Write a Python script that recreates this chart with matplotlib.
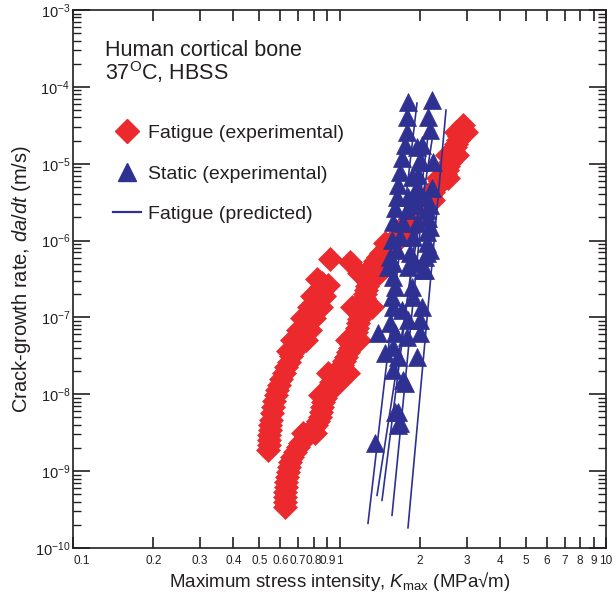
import matplotlib
matplotlib.use("Agg")
import matplotlib.pyplot as plt
from matplotlib.ticker import FixedLocator, FixedFormatter, NullLocator, LogLocator
from matplotlib.lines import Line2D

plt.rcParams['font.family'] = ['Liberation Sans', 'DejaVu Sans']
plt.rcParams['mathtext.fontset'] = 'custom'
plt.rcParams['mathtext.rm'] = 'Liberation Sans'
plt.rcParams['mathtext.it'] = 'Liberation Sans:italic'
plt.rcParams['mathtext.bf'] = 'Liberation Sans:bold'

RED = '#EC2A2E'
BLUE = '#2E3192'
INK = '#231F20'

# ---- Fatigue (experimental): band 1 ----
fat1_K = [0.539, 0.544, 0.548, 0.553, 0.563, 0.578, 0.593, 0.619, 0.646, 0.675, 0.641,
          0.705, 0.664, 0.749, 0.736, 0.699, 0.775, 0.768, 0.723, 0.802, 0.809, 0.768,
          0.852, 0.830, 0.788, 0.875, 0.852, 0.823, 0.905, 0.921,
          0.544, 0.544, 0.548, 0.558, 0.568, 0.583, 0.603, 0.630, 0.658, 0.687, 0.717,
          0.749, 0.788, 0.816, 0.845, 0.860]
fat1_rate = [1.87e-9, 2.52e-9, 3.40e-9, 4.58e-9, 6.77e-9, 9.71e-9, 1.31e-8, 1.88e-8, 2.61e-8,
             3.63e-8, 3.63e-8, 5.05e-8, 5.05e-8, 5.05e-8, 6.81e-8, 6.81e-8, 6.81e-8, 9.76e-8,
             9.76e-8, 9.76e-8, 1.36e-7, 1.36e-7, 1.36e-7, 1.89e-7, 1.89e-7, 1.89e-7, 2.47e-7,
             3.14e-7, 2.63e-7, 5.73e-7,
             2.17e-9, 2.92e-9, 3.94e-9, 5.66e-9, 8.11e-9, 1.13e-8, 1.57e-8, 2.25e-8, 3.13e-8,
             4.34e-8, 5.86e-8, 8.15e-8, 1.17e-7, 1.63e-7, 2.19e-7, 2.79e-7]

# ---- Fatigue (experimental): band 2 ----
fat2_K = [0.624, 0.624, 0.630, 0.635, 0.646, 0.664, 0.699, 0.730, 0.730, 0.809, 0.816,
          0.845, 0.860, 0.845, 0.882, 0.905, 0.929, 0.970, 0.987, 0.905, 1.076, 1.022,
          1.058, 1.095, 1.124, 1.067, 1.184, 1.153, 1.173, 1.194, 1.214, 1.114, 1.324,
          1.236, 1.257, 1.279, 1.184, 1.407, 1.336, 1.095, 1.395, 1.482, 1.547, 1.658,
          1.761, 1.871, 1.970, 2.058, 2.148, 2.243, 2.342, 2.445, 2.532, 2.598, 2.643,
          2.713, 2.784, 2.857, 2.907,
          1.48, 1.62, 1.79, 1.96, 2.06, 2.24, 2.34, 2.55, 2.53, 2.76, 2.74, 2.98,
          0.624, 0.624, 0.630, 0.641, 0.652, 0.681, 0.711, 0.749, 0.788, 0.830, 0.852,
          0.867, 0.921, 0.954, 1.004, 1.040, 1.076, 1.105, 1.133, 1.163, 1.184, 1.204,
          1.225, 1.246, 1.268, 1.279, 1.313, 1.359, 1.431, 1.507, 1.601, 1.701, 1.807,
          1.920, 2.005, 2.094, 2.186, 2.282, 2.384, 2.489, 2.554, 2.621, 2.667, 2.737,
          2.808, 2.883]
fat2_rate = [3.38e-10, 4.56e-10, 6.15e-10, 8.30e-10, 1.12e-9, 1.51e-9, 2.04e-9, 2.52e-9,
             3.10e-9, 3.10e-9, 3.94e-9, 5.02e-9, 6.77e-9, 9.71e-9, 8.87e-9, 1.13e-8,
             1.43e-8, 1.31e-8, 1.88e-8, 1.88e-8, 1.88e-8, 2.39e-8, 3.03e-8, 3.97e-8,
             5.05e-8, 5.05e-8, 5.05e-8, 6.41e-8, 8.40e-8, 1.07e-7, 1.36e-7, 1.36e-7,
             1.36e-7, 1.78e-7, 2.26e-7, 2.87e-7, 3.76e-7, 3.76e-7, 4.79e-7, 5.23e-7,
             6.09e-7, 7.50e-7, 9.25e-7, 1.11e-6, 1.36e-6, 1.74e-6, 2.14e-6, 2.64e-6,
             3.36e-6, 4.27e-6, 5.26e-6, 6.49e-6, 8.26e-6, 1.05e-5, 1.29e-5, 1.64e-5,
             2.03e-5, 2.58e-5, 3.19e-5,
             9.25e-7, 9.25e-7, 1.74e-6, 1.74e-6, 3.36e-6, 3.36e-6, 6.49e-6, 6.49e-6,
             1.29e-5, 1.29e-5, 2.58e-5, 2.58e-5,
             3.93e-10, 5.30e-10, 7.15e-10, 9.64e-10, 1.30e-9, 1.76e-9, 2.30e-9, 2.75e-9,
             3.50e-9, 4.45e-9, 5.83e-9, 7.87e-9, 1.27e-8, 1.61e-8, 2.12e-8, 2.69e-8,
             3.52e-8, 4.48e-8, 5.69e-8, 7.23e-8, 9.48e-8, 1.20e-7, 1.58e-7, 2.01e-7,
             2.55e-7, 3.24e-7, 4.25e-7, 5.40e-7, 6.85e-7, 8.20e-7, 1.01e-6, 1.25e-6,
             1.54e-6, 1.96e-6, 2.42e-6, 2.98e-6, 3.79e-6, 4.81e-6, 5.93e-6, 7.32e-6,
             9.31e-6, 1.18e-5, 1.46e-5, 1.80e-5, 2.29e-5, 2.83e-5]

# ---- Static (experimental) ----
static_K = [1.807, 1.792, 1.792, 1.761, 1.716, 1.687, 1.658, 1.643, 1.615, 1.588, 1.574,
            1.547, 1.520, 1.588, 1.615, 1.574, 1.588, 1.547, 1.395, 1.615, 1.588, 1.588,
            1.731, 1.615, 1.658, 1.359,
            2.224, 2.148, 2.186, 2.040, 2.005, 1.970, 1.953, 1.920, 2.243, 2.224, 2.186,
            2.148, 2.130, 2.130, 1.920, 2.094, 1.871, 1.887, 2.040, 1.807, 2.005, 1.792,
            2.005, 1.953,
            1.953, 2.005, 1.871, 1.953, 1.807, 2.058, 1.792, 2.130, 1.731, 1.953, 2.186,
            1.687, 1.887, 2.130, 1.643, 1.839, 2.094, 1.588, 1.807, 2.058, 2.186,
            1.716, 1.658, 1.482, 1.761, 1.658, 1.687]
static_rate = [6.34e-5, 4.05e-5, 2.58e-5, 1.75e-5, 1.18e-5, 7.78e-6, 5.26e-6, 3.67e-6,
               2.64e-6, 1.74e-6, 1.01e-6, 6.09e-7, 4.51e-7, 3.34e-7, 2.47e-7, 1.83e-7,
               1.36e-7, 8.40e-8, 6.22e-8, 6.22e-8, 4.09e-8, 2.05e-8, 1.52e-8, 5.83e-9,
               3.94e-9, 2.30e-9,
               6.73e-5, 4.05e-5, 2.74e-5, 1.75e-5, 1.05e-5, 7.11e-6, 4.27e-6, 2.89e-6,
               1.05e-5, 4.81e-6, 2.89e-6, 1.96e-6, 1.29e-6, 6.85e-7, 5.08e-7, 4.12e-7,
               2.47e-7, 1.83e-7, 1.36e-7, 9.20e-8, 9.20e-8, 5.52e-8, 6.22e-8, 3.03e-8,
               1.64e-5, 1.11e-5, 6.70e-6, 4.96e-6, 3.67e-6, 3.67e-6, 2.49e-6, 2.49e-6,
               1.69e-6, 1.69e-6, 1.49e-6, 1.11e-6, 1.11e-6, 9.25e-7, 7.50e-7, 6.85e-7,
               6.09e-7, 5.08e-7, 4.51e-7, 4.12e-7, 7.50e-7,
               1.24e-7, 3.03e-8, 3.42e-8, 1.39e-8, 5.83e-9, 4.19e-9]

# ---- Fatigue (predicted) lines: (K_start, K_end), (rate_start, rate_end) ----
pred_K = [(1.279, 1.953), (1.383, 2.224), (1.574, 2.094), (1.807, 2.510), (1.444, 2.186)]
pred_rate = [(2.09e-10, 6.15e-5), (4.84e-10, 2.03e-5), (2.66e-10, 6.11e-6),
             (1.83e-10, 4.99e-5), (4.17e-10, 3.70e-5)]

xticks = [0.1, 0.2, 0.3, 0.4, 0.5, 0.6, 0.7, 0.8, 0.9, 1, 2, 3, 4, 5, 6, 7, 8, 9, 10]
xticklabels = ['0.1', '0.2', '0.3', '0.4', '0.5', '0.6', '0.7', '0.8', '0.9', '1',
               '2', '3', '4', '5', '6', '7', '8', '9', '10']

fig = plt.figure(figsize=(6.16, 5.99), dpi=100)
ax = fig.add_axes([73/616, 51/599, 533/616, 538/599])
ax.set_xscale('log')
ax.set_yscale('log')
ax.set_xlim(0.1, 10)
ax.set_ylim(1e-10, 1e-3)

ax.plot(fat1_K, fat1_rate, linestyle='none', marker='D', ms=12, mfc=RED, mec=RED, mew=0.5, zorder=2)
ax.plot(fat2_K, fat2_rate, linestyle='none', marker='D', ms=12, mfc=RED, mec=RED, mew=0.5, zorder=2)
ax.plot(static_K, static_rate, linestyle='none', marker='^', ms=12.5, mfc=BLUE, mec=BLUE, mew=0.5, zorder=3)
for k, r in zip(pred_K, pred_rate):
    ax.plot(k, r, color=BLUE, lw=1.2, zorder=4)

ax.xaxis.set_major_locator(FixedLocator(xticks))
ax.xaxis.set_major_formatter(FixedFormatter(xticklabels))
ax.xaxis.set_minor_locator(NullLocator())
ax.yaxis.set_major_locator(LogLocator(base=10, numticks=20))
ax.yaxis.set_minor_locator(LogLocator(base=10, subs=range(2, 10), numticks=20))

ax.tick_params(which='both', direction='in', top=True, right=True, colors=INK)
ax.tick_params(axis='x', which='major', length=8, width=1.2, labelsize=8.5, pad=5)
ax.tick_params(axis='y', which='major', length=12, width=1.2, labelsize=10.5, pad=2)
ax.tick_params(axis='y', which='minor', length=6, width=1.0)
for s in ax.spines.values():
    s.set_linewidth(1.2)
    s.set_color(INK)

ax.set_xlabel(r'Maximum stress intensity, $K_{\mathrm{max}}$ (MPa√m)', fontsize=13.5, labelpad=2, color=INK)
ax.set_ylabel(r'Crack-growth rate, $da/dt$ (m/s)', fontsize=14.5, labelpad=1, color=INK)

fig.canvas.draw()
first = ax.get_xticklabels()[0]
first.set_horizontalalignment('left')

ax.text(0.060, 0.9145, 'Human cortical bone', transform=ax.transAxes, fontsize=15.5,
        va='baseline', ha='left', color=INK)
ax.text(0.060, 0.870, r'37$^{\mathrm{O}}$C, HBSS', transform=ax.transAxes, fontsize=15.5,
        va='baseline', ha='left', color=INK)

handles = [Line2D([], [], linestyle='none', marker='D', ms=12, mfc=RED, mec=RED),
           Line2D([], [], linestyle='none', marker='^', ms=13, mfc=BLUE, mec=BLUE),
           Line2D([], [], color=BLUE, lw=1.6)]
labels = ['Fatigue (experimental)', 'Static (experimental)', 'Fatigue (predicted)']
ax.legend(handles, labels, loc='upper left', bbox_to_anchor=(0.075, 0.787), frameon=False,
          fontsize=14, handlelength=1.45, handletextpad=0.35, labelspacing=1.17,
          borderpad=0, borderaxespad=0, labelcolor=INK)

fig.savefig('out.png', dpi=100)
